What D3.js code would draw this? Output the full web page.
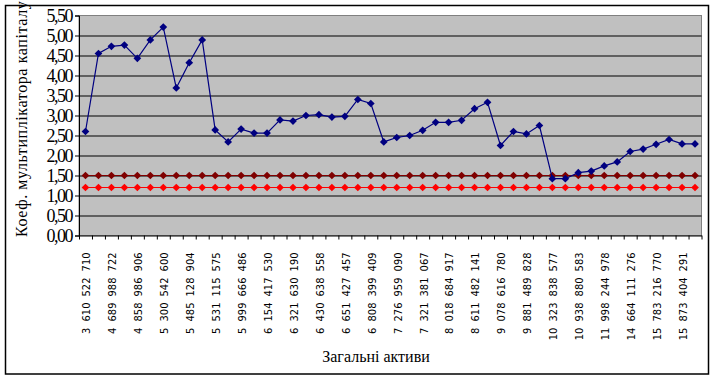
<!DOCTYPE html>
<html>
<head>
<meta charset="utf-8">
<script src="https://cdn.jsdelivr.net/npm/d3@7"></script>
<style>
  body { margin: 0; background: #fff; }
</style>
</head>
<body>
<div id="container"></div>
<script>
const width = 714,
  height = 380,
  margin = { top: 15.5, bottom: 144.5, left: 79, right: 12.5 }
const serif = "Liberation Serif"

// DATA
// 48 categories (total assets), only every second one is labelled on the axis
const categories = d3.range(48)
const tickLabels = [
  "3 610 522 710", "4 689 988 722", "4 858 986 906", "5 300 542 600",
  "5 485 128 904", "5 531 115 575", "5 999 666 486", "6 154 417 530",
  "6 321 630 190", "6 430 638 558", "6 651 427 457", "6 808 399 409",
  "7 276 959 090", "7 321 381 067", "8 018 684 917", "8 611 482 141",
  "9 078 616 780", "9 881 489 828", "10 323 838 577", "10 938 880 583",
  "11 998 244 978", "14 664 111 276", "15 783 216 770", "15 873 404 291"
]
const multiplier = [
  2.6, 4.55, 4.73, 4.76, 4.43, 4.89, 5.21, 3.69, 4.32, 4.89,
  2.64, 2.34, 2.66, 2.56, 2.56, 2.89, 2.86, 3.0, 3.02, 2.96,
  2.98, 3.4, 3.3, 2.34, 2.45, 2.5, 2.63, 2.83, 2.83, 2.88,
  3.17, 3.33, 2.25, 2.6, 2.54, 2.75, 1.42, 1.42, 1.57, 1.61,
  1.74, 1.84, 2.1, 2.16, 2.28, 2.4, 2.29, 2.29
]
const upperLimit = categories.map(() => 1.5)
const lowerLimit = categories.map(() => 1.2)
const yTicks = [0, 0.5, 1, 1.5, 2, 2.5, 3, 3.5, 4, 4.5, 5, 5.5]

const series = [
  { values: upperLimit, color: "#800000" },
  { values: lowerLimit, color: "#ff0000" },
  { values: multiplier, color: "#000080" }
]

// CREATE SVG ELEMENT
const svg = d3.select("#container")
  .append("svg")
  .attr("width", width)
  .attr("height", height)
  .style("display", "block")

// outer chart border
svg.append("rect")
  .attr("x", 5.5).attr("y", 5.5)
  .attr("width", 703).attr("height", 368.5)
  .attr("fill", "#fff")
  .attr("stroke", "#000")
  .attr("stroke-width", 1.5)

// SCALES
const xScale = d3.scaleBand()
  .domain(categories)
  .range([margin.left, width - margin.right])

const xEdge = d3.scaleLinear()
  .domain([0, categories.length])
  .range([margin.left, width - margin.right])

const yScale = d3.scaleLinear()
  .domain([0, 5.5])
  .range([height - margin.bottom, margin.top])

// plot area
svg.append("rect")
  .attr("x", margin.left)
  .attr("y", margin.top)
  .attr("width", width - margin.left - margin.right)
  .attr("height", height - margin.top - margin.bottom)
  .attr("fill", "#c0c0c0")
  .attr("stroke", "#808080")

// gridlines
svg.append("g")
  .attr("transform", `translate(${margin.left},0)`)
  .call(d3.axisLeft(yScale)
    .tickValues(yTicks.filter(d => d > 0 && d < 5.5))
    .tickSize(-(width - margin.left - margin.right))
    .tickFormat(""))
  .call(g => g.select(".domain").remove())
  .selectAll("line")
  .attr("stroke", "#000")

// Y AXIS
const yAxisG = svg.append("g")
  .attr("transform", `translate(${margin.left},0)`)
  .call(d3.axisLeft(yScale)
    .tickValues(yTicks)
    .tickSize(4)
    .tickPadding(3)
    .tickFormat(d => d.toFixed(2).replace(".", ",")))
  .attr("font-family", serif)
  .attr("font-size", 18)
yAxisG.select(".domain").attr("stroke", "#000")
yAxisG.selectAll("text")
  .attr("letter-spacing", -1.5)
  .attr("fill", "#000")

// X AXIS (ticks on category boundaries)
svg.append("g")
  .attr("transform", `translate(0,${height - margin.bottom})`)
  .call(d3.axisBottom(xEdge)
    .tickValues(d3.range(0, categories.length + 1))
    .tickSize(4)
    .tickSizeOuter(0)
    .tickFormat(""))
  .call(g => g.select(".domain").attr("stroke", "#000"))

// x labels, every second category, rotated
const xLab = svg.append("g")
  .attr("transform", `translate(0,${height - margin.bottom})`)
  .call(d3.axisBottom(xScale)
    .tickValues(categories.filter(d => d % 2 === 0))
    .tickSize(0)
    .tickFormat(d => tickLabels[d / 2]))
  .attr("font-family", "Liberation Sans Narrow, Arial Narrow, DejaVu Sans Condensed, sans-serif")
  .attr("font-size", 11)
xLab.select(".domain").remove()
xLab.selectAll("text")
  .attr("transform", "rotate(-90)")
  .attr("text-anchor", "end")
  .attr("x", -17)
  .attr("y", 1)
  .attr("dy", "0.35em")
  .attr("word-spacing", 3)
  .attr("fill", "#000")

// LINE GENERATOR FUNCTION
const lineGen = d3.line()
  .x((d, i) => xScale(categories[i]) + xScale.bandwidth() / 2)
  .y(d => yScale(d))

const diamond = d3.symbol(d3.symbolSquare, 30)

series.forEach(s => {
  svg.append("path")
    .datum(s.values)
    .attr("fill", "none")
    .attr("stroke", s.color)
    .attr("stroke-width", 1.2)
    .attr("d", lineGen)

  svg.append("g")
    .selectAll("path")
    .data(s.values)
    .join("path")
    .attr("d", diamond)
    .attr("fill", s.color)
    .attr("transform", (d, i) =>
      `translate(${xScale(categories[i]) + xScale.bandwidth() / 2},${yScale(d)}) rotate(45)`)
})

// AXIS TITLES
svg.append("text")
  .attr("x", 376)
  .attr("y", 362)
  .attr("text-anchor", "middle")
  .attr("font-family", serif)
  .attr("font-size", 16)
  .text("Загальні активи")

svg.append("text")
  .attr("transform", "translate(27,237) rotate(-90)")
  .attr("text-anchor", "start")
  .attr("font-family", serif)
  .attr("font-size", 16)
  .attr("letter-spacing", 0.6)
  .text("Коеф. мультиплікатора капіталу")
</script>
</body>
</html>
